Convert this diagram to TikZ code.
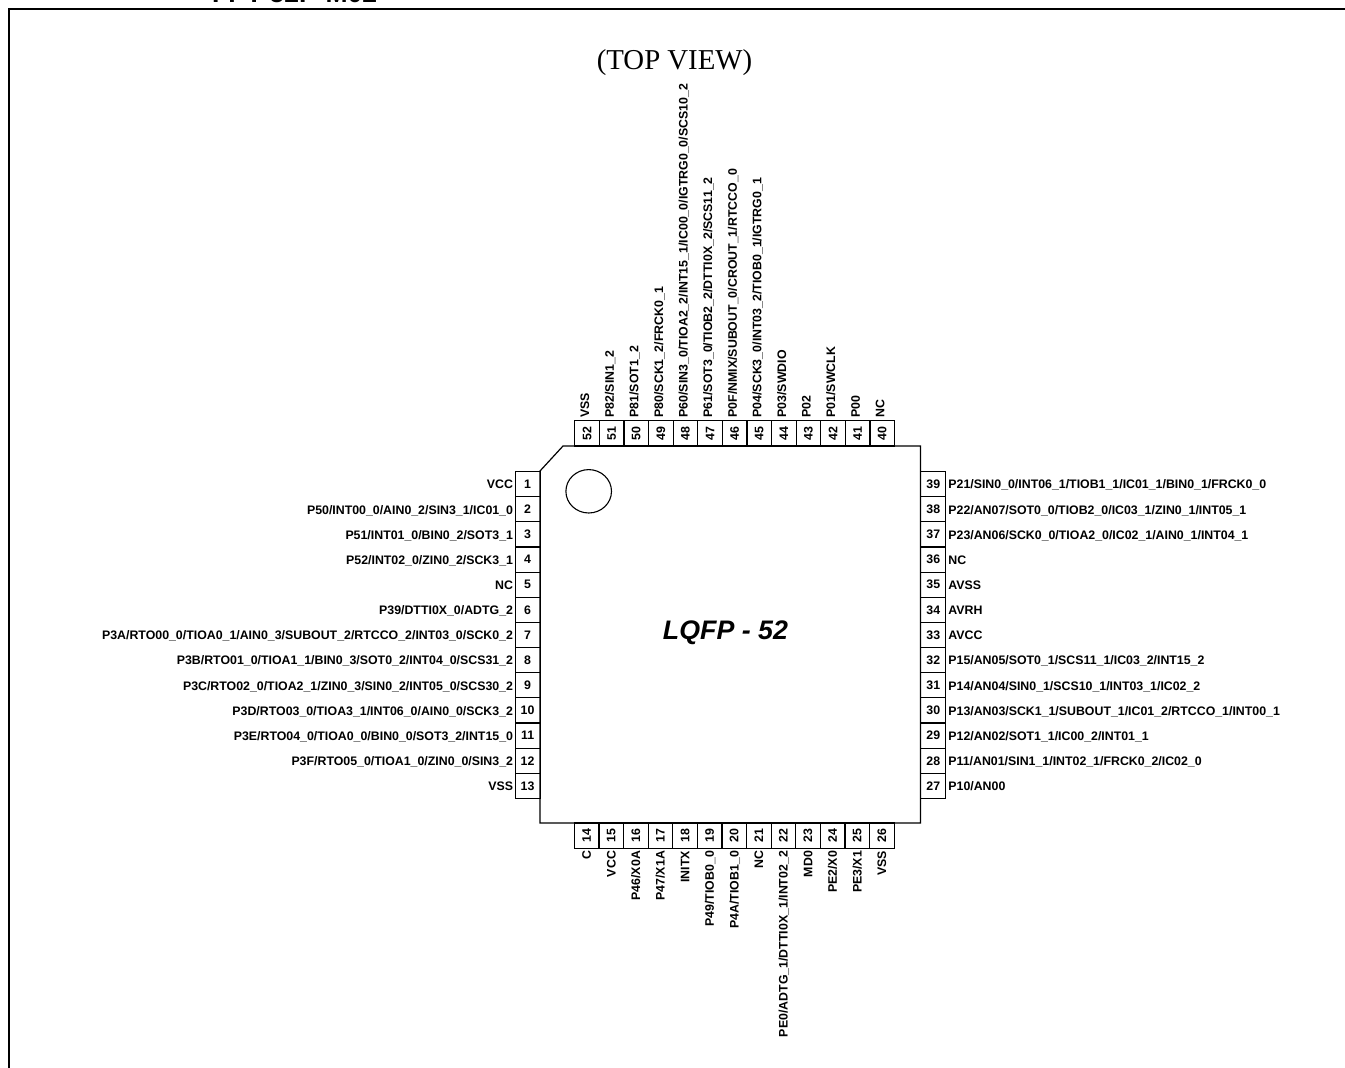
\documentclass[tikz,border=0pt]{standalone}
\usepackage{fontspec}
\usetikzlibrary{shapes.geometric}
\setmainfont{Liberation Sans}
\newfontfamily\serifface{Liberation Serif}
\newcommand{\pinfont}{\bfseries\fontsize{12.35}{14}\selectfont}
\tikzset{
  pinbox/.style={draw=black,line width=1.2pt,rectangle,inner sep=0pt,outer sep=0pt,font=\pinfont},
  hbox/.style={pinbox,minimum width=25pt,minimum height=25.15pt},
  vbox/.style={pinbox,minimum width=24.6pt,minimum height=25.2pt},
  pinlabel/.style={inner sep=0pt,outer sep=0pt,font=\pinfont},
}
% left pin: number, text
\newcommand{\lpin}[2]{%
  \node[hbox] (pin#1) at (527.6,{471.5+(#1-1)*25.15+12.6}) {#1};
  \node[pinlabel,anchor=base east] (lab#1) at (513,{471.5+(#1-1)*25.15+17.4}) {#2};
}
\newcommand{\rpin}[2]{%
  \node[hbox] (pin#1) at (933.3,{471.5+(39-#1)*25.15+12.6}) {#1};
  \node[pinlabel,anchor=base west] (lab#1) at (948.4,{471.5+(39-#1)*25.15+17.4}) {#2};
}
\newcommand{\tpin}[2]{%
  \node[vbox] (pin#1) at ({574.7+(52-#1)*24.6+12.3},433.4) {\rotatebox{90}{#1}};
  \node[pinlabel,rotate=90,anchor=base west] (lab#1) at ({574.7+(52-#1)*24.6+14.5},417.5) {#2};
}
\newcommand{\bpin}[2]{%
  \node[vbox] (pin#1) at ({574.3+(#1-14)*24.6+12.3},835.6) {\rotatebox{90}{#1}};
  \node[pinlabel,rotate=90,anchor=base east] (lab#1) at ({574.3+(#1-14)*24.6+16.6},851) {#2};
}
\begin{document}
\begin{tikzpicture}[x=1pt,y=-1pt]
\useasboundingbox (0,0) rectangle (1345,1068);
\fill[white] (0,0) rectangle (1345,1068);
% clipped heading at the top edge
\node[inner sep=0pt,anchor=base west,font=\bfseries\fontsize{26.5}{28}\selectfont] (heading) at (212,2) {FPT-52P-M02};
% outer frame: only the top and left sides are in view
\draw[line width=2.2pt] (8.8,1068) -- (8.8,9) -- (1345,9);
\node[inner sep=0pt,font=\serifface\fontsize{28.8}{30}\selectfont] (view) at (674.5,63) {(TOP VIEW)};
% package body
\draw[line width=1.2pt] (563,446) -- (920.5,446) -- (920.5,823) -- (540,823) -- (540,471) -- cycle;
\node[draw=black,line width=1.1pt,ellipse,inner sep=0pt,minimum width=45.6pt,minimum height=43.4pt] (dot) at (588.7,491.3) {};
\node[inner sep=0pt,font=\bfseries\itshape\fontsize{26.8}{29}\selectfont] (pkg) at (725.5,632.5) {LQFP - 52};
% left
\lpin{1}{VCC}
\lpin{2}{P50/INT00\_0/AIN0\_2/SIN3\_1/IC01\_0}
\lpin{3}{P51/INT01\_0/BIN0\_2/SOT3\_1}
\lpin{4}{P52/INT02\_0/ZIN0\_2/SCK3\_1}
\lpin{5}{NC}
\lpin{6}{P39/DTTI0X\_0/ADTG\_2}
\lpin{7}{P3A/RTO00\_0/TIOA0\_1/AIN0\_3/SUBOUT\_2/RTCCO\_2/INT03\_0/SCK0\_2}
\lpin{8}{P3B/RTO01\_0/TIOA1\_1/BIN0\_3/SOT0\_2/INT04\_0/SCS31\_2}
\lpin{9}{P3C/RTO02\_0/TIOA2\_1/ZIN0\_3/SIN0\_2/INT05\_0/SCS30\_2}
\lpin{10}{P3D/RTO03\_0/TIOA3\_1/INT06\_0/AIN0\_0/SCK3\_2}
\lpin{11}{P3E/RTO04\_0/TIOA0\_0/BIN0\_0/SOT3\_2/INT15\_0}
\lpin{12}{P3F/RTO05\_0/TIOA1\_0/ZIN0\_0/SIN3\_2}
\lpin{13}{VSS}
% bottom
\bpin{14}{C}
\bpin{15}{VCC}
\bpin{16}{P46/X0A}
\bpin{17}{P47/X1A}
\bpin{18}{INITX}
\bpin{19}{P49/TIOB0\_0}
\bpin{20}{P4A/TIOB1\_0}
\bpin{21}{NC}
\bpin{22}{PE0/ADTG\_1/DTTI0X\_1/INT02\_2}
\bpin{23}{MD0}
\bpin{24}{PE2/X0}
\bpin{25}{PE3/X1}
\bpin{26}{VSS}
% right
\rpin{27}{P10/AN00}
\rpin{28}{P11/AN01/SIN1\_1/INT02\_1/FRCK0\_2/IC02\_0}
\rpin{29}{P12/AN02/SOT1\_1/IC00\_2/INT01\_1}
\rpin{30}{P13/AN03/SCK1\_1/SUBOUT\_1/IC01\_2/RTCCO\_1/INT00\_1}
\rpin{31}{P14/AN04/SIN0\_1/SCS10\_1/INT03\_1/IC02\_2}
\rpin{32}{P15/AN05/SOT0\_1/SCS11\_1/IC03\_2/INT15\_2}
\rpin{33}{AVCC}
\rpin{34}{AVRH}
\rpin{35}{AVSS}
\rpin{36}{NC}
\rpin{37}{P23/AN06/SCK0\_0/TIOA2\_0/IC02\_1/AIN0\_1/INT04\_1}
\rpin{38}{P22/AN07/SOT0\_0/TIOB2\_0/IC03\_1/ZIN0\_1/INT05\_1}
\rpin{39}{P21/SIN0\_0/INT06\_1/TIOB1\_1/IC01\_1/BIN0\_1/FRCK0\_0}
% top
\tpin{40}{NC}
\tpin{41}{P00}
\tpin{42}{P01/SWCLK}
\tpin{43}{P02}
\tpin{44}{P03/SWDIO}
\tpin{45}{P04/SCK3\_0/INT03\_2/TIOB0\_1/IGTRG0\_1}
\tpin{46}{P0F/NMIX/SUBOUT\_0/CROUT\_1/RTCCO\_0}
\tpin{47}{P61/SOT3\_0/TIOB2\_2/DTTI0X\_2/SCS11\_2}
\tpin{48}{P60/SIN3\_0/TIOA2\_2/INT15\_1/IC00\_0/IGTRG0\_0/SCS10\_2}
\tpin{49}{P80/SCK1\_2/FRCK0\_1}
\tpin{50}{P81/SOT1\_2}
\tpin{51}{P82/SIN1\_2}
\tpin{52}{VSS}
\end{tikzpicture}
\end{document}
